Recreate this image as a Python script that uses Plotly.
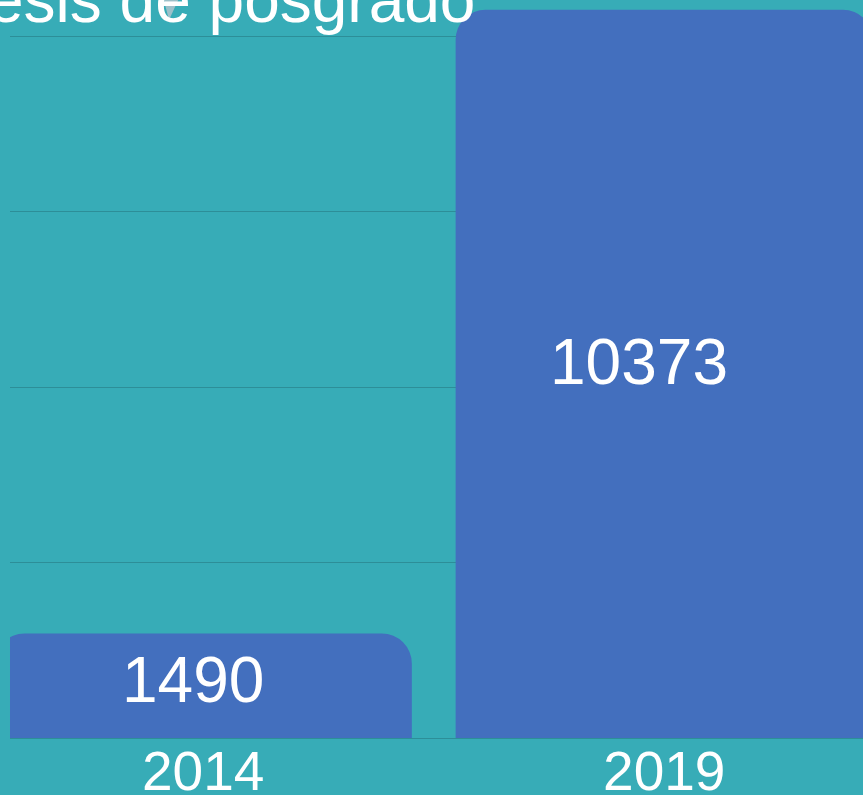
import plotly.graph_objects as go

years = ["2014", "2019"]
values = [1490, 10373]
title_text = "Tesis de posgrado"

# label offsets (px) for the value labels inside bars
label_xshift = [-10, -25]
label_yshift = [6, 12]

BG = "#37ACB7"
BAR = "#436FBE"
GRID = "#2D8E98"
FONT = "Liberation Sans, Arial, sans-serif"

fig = go.Figure()
fig.add_trace(go.Bar(
    x=years, y=values,
    marker=dict(color=BAR, cornerradius=30, line=dict(width=0)),
    hoverinfo="skip",
))

for i, (v, xs, ys) in enumerate(zip(values, label_xshift, label_yshift)):
    fig.add_annotation(x=i, y=v / 2, text=str(v), showarrow=False,
                       xshift=xs, yshift=ys,
                       font=dict(family=FONT, size=64, color="white"))

fig.add_annotation(xref="paper", yref="paper", x=0.548, y=1, xanchor="right",
                   yanchor="bottom", yshift=-38, text=title_text, showarrow=False,
                   font=dict(family=FONT, size=64, color="white"))

fig.add_shape(type="path", xref="paper", yref="paper",
              path="M 0.1759 1.02 L 0.2052 1.02 L 0.1864 0.9729 Z",
              fillcolor="rgba(175,195,205,0.85)", line=dict(width=0), layer="above")

fig.update_layout(
    width=863, height=795,
    autosize=False,
    margin=dict(l=10, r=0, t=0, b=57),
    paper_bgcolor=BG, plot_bgcolor=BG,
    bargap=0.095,
    showlegend=False,
    font=dict(family=FONT, color="white"),
    xaxis=dict(type="category", range=[-0.419, 1.431], showgrid=False,
               automargin=False, ticklabelstandoff=-4,
               showline=False, ticks="", tickfont=dict(size=55, color="white")),
    yaxis=dict(range=[0, 10513], dtick=2500, showgrid=True, gridcolor=GRID,
               automargin=False,
               gridwidth=1, zeroline=True, zerolinecolor=GRID, zerolinewidth=1,
               showticklabels=False, ticks=""),
)

fig.write_html("out.html",
               config={"displayModeBar": False, "responsive": False},
               post_script="document.body.style.margin='0';document.body.style.overflow='hidden';")
